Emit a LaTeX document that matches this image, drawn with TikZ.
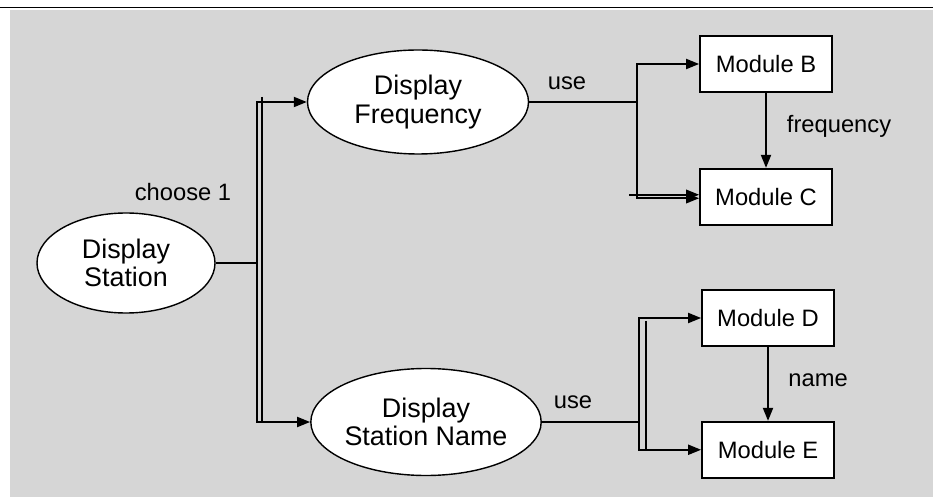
\documentclass[tikz,border=0pt]{standalone}
\usepackage{fontspec}
\setmainfont{Liberation Sans}
\usepackage{tikz}
\usetikzlibrary{arrows.meta, positioning, shapes.geometric}
\definecolor{dsGray}{HTML}{D6D6D6}
\definecolor{dsInk}{HTML}{000000}
\newcommand{\dsfont}{\fontsize{13.5}{15.5}\selectfont}
\newcommand{\dstaskfont}{\fontsize{15.3}{16}\selectfont}

\begin{document}
\begin{tikzpicture}[
      task/.style={ellipse, draw=dsInk, fill=white, line width=0.8pt,
                   align=center, font=\dstaskfont, inner sep=0pt},
      module/.style={draw=dsInk, fill=white, line width=1pt,
                     minimum width=2.64cm, minimum height=1.12cm, font=\dsfont},
      flow/.style={-{Triangle[length=2.6mm, width=2mm]}, line width=1.1pt, dsInk},
      wire/.style={line width=1.1pt, dsInk},
      tag/.style={font=\dsfont, inner sep=0pt},
      node distance=1.5cm]
    % page and background
    \useasboundingbox (0,0) rectangle (18.66,-9.94);
    \fill[dsGray] (0.2,-0.2) rectangle (18.66,-9.94);
    \draw[line width=0.5pt] (0,-0.14) -- (18.66,-0.14);
    % tasks
    \node[task, minimum width=3.56cm, minimum height=2cm] (st) at (2.52,-5.26)
      {Display\\Station};
    \node[task, minimum width=4.42cm, minimum height=2.08cm] (fr) at (8.36,-2.04)
      {Display\\Frequency};
    \node[task, minimum width=4.38cm, minimum height=2.14cm] (nm) at (8.52,-8.44)
      {Display\\Station Name};
    % modules
    \node[module] (mb) at (15.32,-1.28) {Module B};
    \node[module, below=1.5cm of mb] (mc) {Module C};
    \node[module] (md) at (15.36,-6.36) {Module D};
    \node[module, below=1.48cm of md] (me) {Module E};
    % choose 1
    \coordinate (or1) at (5.14,-5.26);
    \node[tag] (choose) at (3.66,-3.84) {choose 1};
    \draw[wire] (st.east) -- (or1);
    \draw[flow] (or1) |- (fr.west);
    \draw[flow] (or1) |- (nm.west);
    \draw[wire] ([xshift=1mm, yshift=1mm]or1 |- fr.west) -- ([xshift=1mm]or1 |- nm.west);
    % use (frequency)
    \coordinate (and1) at (12.74,-2.04);
    \node[tag] (use1) at (11.34,-1.66) {use};
    \draw[wire] (fr.east) -- (and1);
    \draw[flow] (and1) |- (mb.west);
    \draw[flow] (and1) |- ([yshift=-0.3mm]mc.west);
    \draw[flow] ([xshift=-1.6mm, yshift=0.4mm]and1 |- mc.west) -- ([yshift=0.4mm]mc.west);
    \draw[flow] (mb) -- node[tag, right=4mm, pos=0.45] (frq) {frequency} (mc);
    % use (name)
    \coordinate (and2) at (12.78,-8.44);
    \node[tag] (use2) at (11.46,-8.04) {use};
    \draw[wire] (nm.east) -- (and2);
    \draw[flow] (and2) |- (md.west);
    \draw[flow] (and2) |- (me.west);
    \draw[wire] ([xshift=1.4mm, yshift=-0.6mm]and2 |- md.west) -- ([xshift=1.4mm]and2 |- me.west);
    \draw[flow] (md) -- node[tag, right=3.9mm, pos=0.45] (nmt) {name} (me);
  \end{tikzpicture}
\end{document}
